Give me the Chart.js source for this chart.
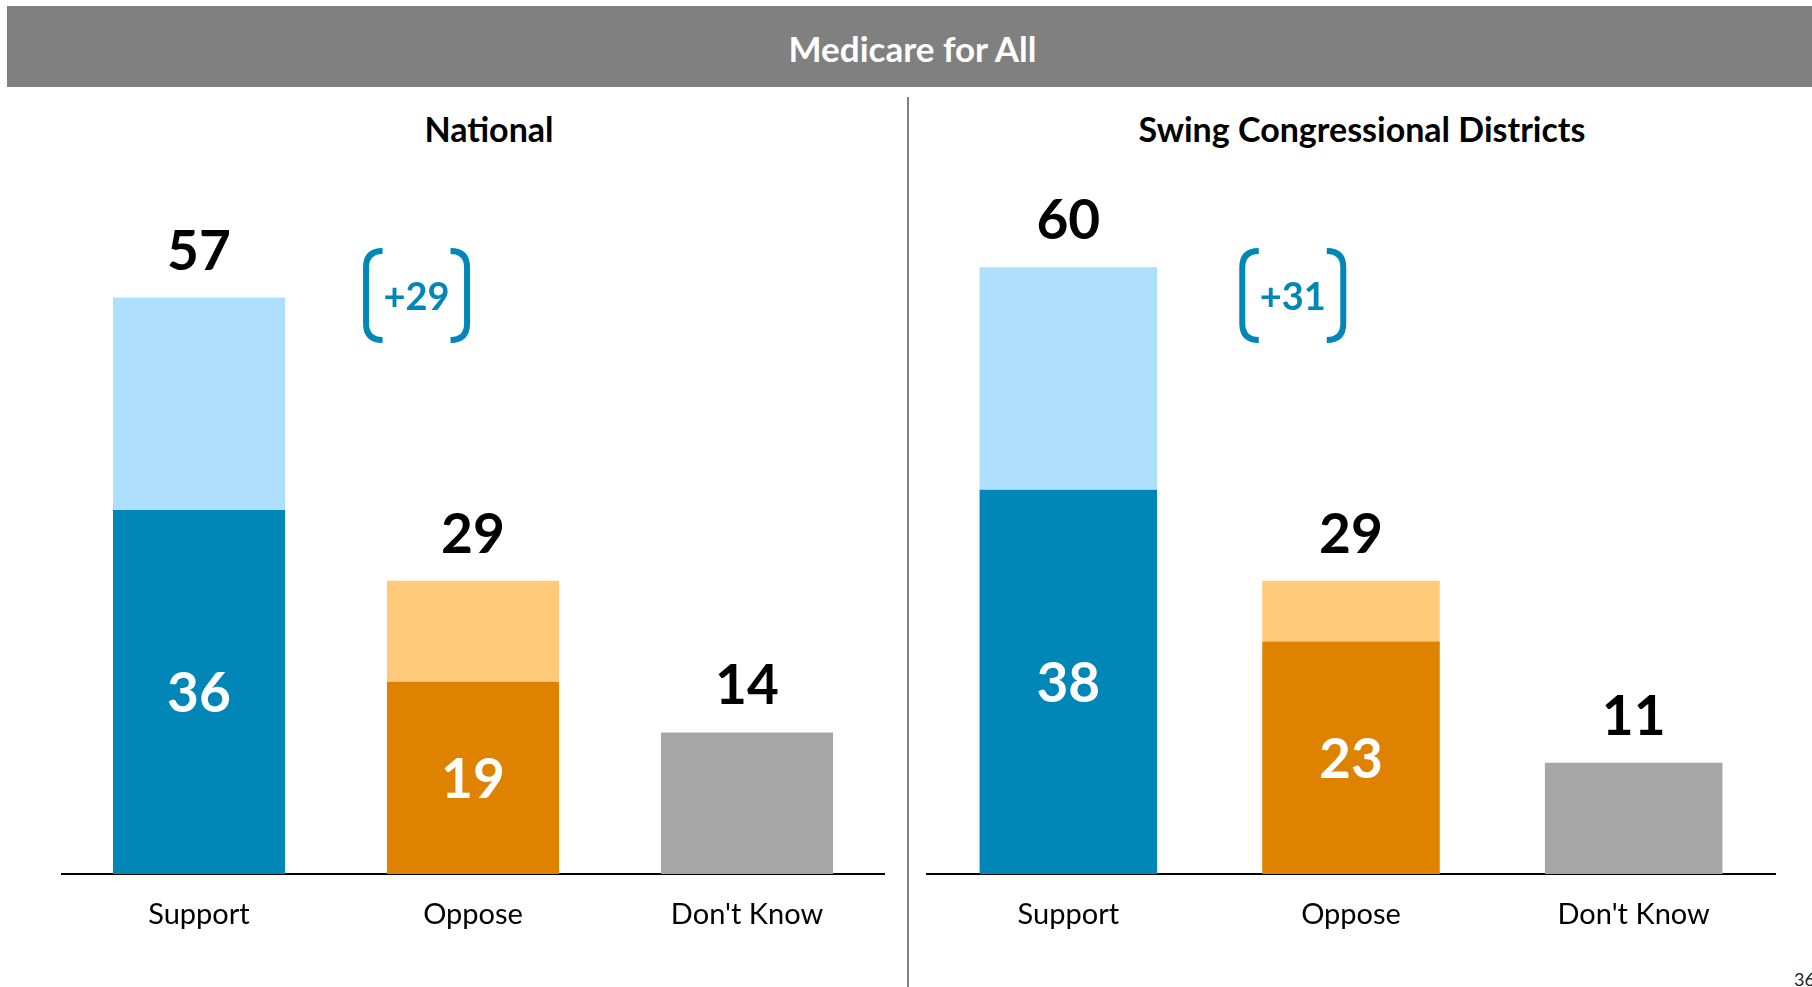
<!DOCTYPE html>
<html><head><meta charset="utf-8">
<script src="https://cdn.jsdelivr.net/npm/chart.js@4/dist/chart.umd.min.js"></script>
<style>
html,body{margin:0;padding:0;background:#fff;width:1812px;height:987px;overflow:hidden;font-family:Lato,sans-serif;position:relative;}
#header{position:absolute;left:7px;top:6px;width:1805px;height:81px;background:#808080;color:#fff;font-weight:bold;font-size:35px;line-height:85px;text-align:center;padding-left:6px;box-sizing:border-box;}
#divider{position:absolute;left:907px;top:97px;width:2px;height:890px;background:#808080;}
.ptitle{position:absolute;width:700px;text-align:center;font-weight:bold;font-size:34px;line-height:40px;top:109px;color:#000;}
#pnum{position:absolute;left:1794px;top:968px;font-size:18px;color:#222;white-space:nowrap;}
canvas{position:absolute;top:150px;}
</style></head>
<body>
<div id="header">Medicare for All</div>
<div id="divider"></div>
<div class="ptitle" id="t0" style="left:139px"></div>
<div class="ptitle" id="t1" style="left:1012px"></div>
<div id="pnum">36</div>
<canvas id="c0" width="907" height="837" style="left:0px"></canvas>
<canvas id="c1" width="902" height="837" style="left:910px"></canvas>
<script>
const categories = ['Support', 'Oppose', "Don't Know"];
const nationalTotal = [57, 29, 14];
const nationalStrong = [36, 19, 14];
const swingTotal = [60, 29, 11];
const swingStrong = [38, 23, 11];
const innerLabelShown = [true, true, false];
const netLabels = ['+29', '+31'];
const panelTitles = ['National', 'Swing Congressional Districts'];
const strongColors = ['#0087B8', '#DF8200', '#A6A6A6'];
const softColors = ['#AEDFFD', '#FFC97A', '#A6A6A6'];
const bracketColor = '#0087B8';

document.getElementById('t0').textContent = panelTitles[0];
document.getElementById('t1').textContent = panelTitles[1];

function makeChart(id, total, strong, net, padL, padR) {
  const soft = total.map((t, i) => t - strong[i]);
  const labelPlugin = {
    id: 'lbl' + id,
    afterDatasetsDraw(chart) {
      const ctx = chart.ctx, y = chart.scales.y, meta = chart.getDatasetMeta(0);
      ctx.save();
      ctx.textAlign = 'center';
      ctx.textBaseline = 'alphabetic';
      ctx.font = 'bold 55px Lato';
      total.forEach((t, i) => {
        const x = meta.data[i].x;
        ctx.fillStyle = '#000';
        ctx.fillText(String(t), x, y.getPixelForValue(t) - 28);
        if (innerLabelShown[i]) {
          const c = (y.getPixelForValue(0) + y.getPixelForValue(strong[i])) / 2;
          ctx.fillStyle = '#fff';
          ctx.fillText(String(strong[i]), x, c + 20);
        }
      });
      // net difference bracket
      const x0 = meta.data[0].x, x1 = meta.data[1].x;
      const cx = x0 + 0.794 * (x1 - x0), cy = y.getPixelForValue(57.2);
      ctx.strokeStyle = bracketColor;
      ctx.lineWidth = 6;
      ctx.lineCap = 'butt';
      ctx.beginPath();
      ctx.moveTo(cx - 34, cy - 44.5);
      ctx.quadraticCurveTo(cx - 50.5, cy - 44.5, cx - 50.5, cy - 28);
      ctx.lineTo(cx - 50.5, cy + 28);
      ctx.quadraticCurveTo(cx - 50.5, cy + 44.5, cx - 34, cy + 44.5);
      ctx.moveTo(cx + 34, cy - 44.5);
      ctx.quadraticCurveTo(cx + 50.5, cy - 44.5, cx + 50.5, cy - 28);
      ctx.lineTo(cx + 50.5, cy + 28);
      ctx.quadraticCurveTo(cx + 50.5, cy + 44.5, cx + 34, cy + 44.5);
      ctx.stroke();
      ctx.fillStyle = bracketColor;
      ctx.font = 'bold 38px Lato';
      ctx.fillText(net, cx, cy + 14);
      ctx.restore();
    }
  };
  return new Chart(document.getElementById(id), {
    type: 'bar',
    data: {
      labels: categories,
      datasets: [
        { data: strong, backgroundColor: strongColors, barPercentage: 0.628, categoryPercentage: 1, stack: 's' },
        { data: soft, backgroundColor: softColors, barPercentage: 0.628, categoryPercentage: 1, stack: 's' }
      ]
    },
    options: {
      responsive: false, animation: false, devicePixelRatio: 1,
      layout: { padding: { left: padL, right: padR, top: 10, bottom: 0 } },
      plugins: { legend: { display: false }, tooltip: { enabled: false }, title: { display: false } },
      scales: {
        x: {
          stacked: true,
          grid: { display: false, drawTicks: false },
          border: { display: true, color: '#000', width: 2 },
          ticks: { color: '#000', font: { family: 'Lato', size: 29 }, padding: 23 },
          afterFit(s) { s.height = 113; }
        },
        y: { stacked: true, display: false, min: 0, max: 70.6 }
      }
    },
    plugins: [labelPlugin]
  });
}

Promise.all([
  document.fonts.load('bold 55px Lato'),
  document.fonts.load('29px Lato'),
  document.fonts.load('bold 38px Lato')
]).catch(() => {}).then(() => {
  makeChart('c0', nationalTotal, nationalStrong, netLabels[0], 62, 23);
  makeChart('c1', swingTotal, swingStrong, netLabels[1], 17, 37);
});
</script>
</body></html>
